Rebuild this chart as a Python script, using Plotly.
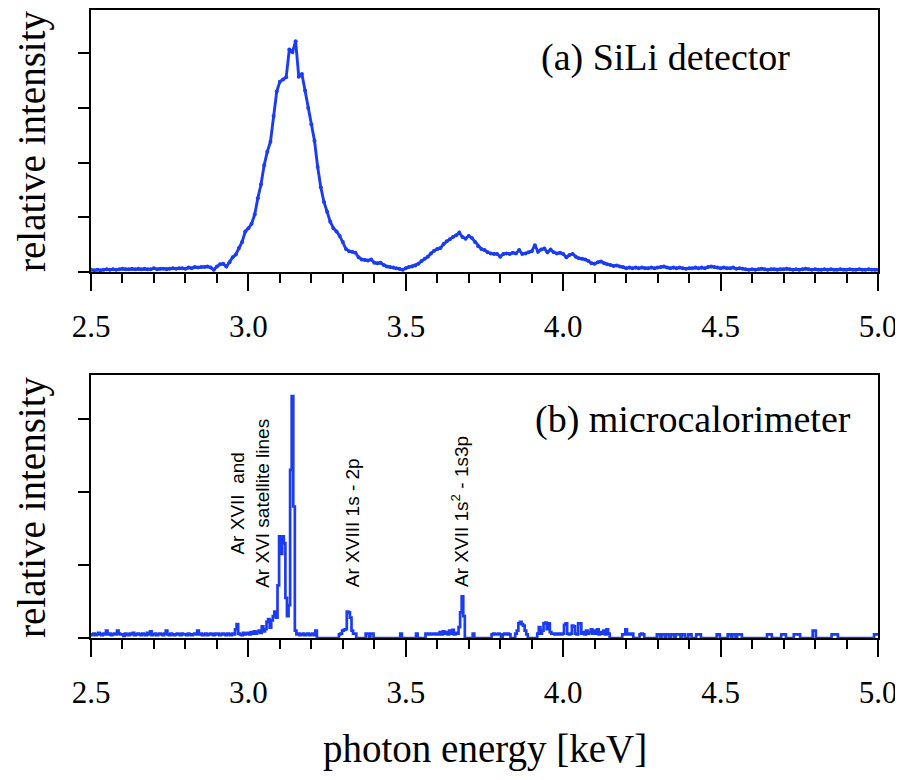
import plotly.graph_objects as go

# ---------------- data ----------------
# (a) SiLi detector: channel step 0.01 keV starting at 2.50 keV
sili_start = 2.50
sili_step = 0.01
sili_intensity = [
    0.04, 0.03, 0.04, 0.03, 0.04, 0.05, 0.04, 0.05, 0.04, 0.05,   # 2.50
    0.06, 0.05, 0.05, 0.06, 0.05, 0.06, 0.05, 0.06, 0.05, 0.05,   # 2.60
    0.07, 0.05, 0.06, 0.06, 0.05, 0.06, 0.07, 0.06, 0.07, 0.07,   # 2.70
    0.06, 0.08, 0.07, 0.09, 0.08, 0.09, 0.09, 0.10, 0.08, 0.04,   # 2.80
    0.10, 0.14, 0.15, 0.10, 0.18, 0.27, 0.32, 0.44, 0.55, 0.74,   # 2.90
    0.80, 0.88, 1.05, 1.35, 1.60, 1.95, 2.20, 2.38, 2.85, 3.30,   # 3.00
    3.48, 3.52, 3.56, 4.07, 4.02, 4.22, 3.57, 3.62, 3.32, 3.00,   # 3.10
    2.70, 2.40, 1.92, 1.55, 1.28, 1.10, 0.92, 0.80, 0.74, 0.66,   # 3.20
    0.55, 0.42, 0.38, 0.37, 0.35, 0.27, 0.23, 0.22, 0.21, 0.23,   # 3.30
    0.17, 0.16, 0.17, 0.13, 0.10, 0.09, 0.08, 0.07, 0.06, 0.04,   # 3.40
    0.07, 0.09, 0.10, 0.12, 0.15, 0.20, 0.24, 0.28, 0.34, 0.39,   # 3.50
    0.42, 0.44, 0.51, 0.56, 0.60, 0.64, 0.67, 0.72, 0.64, 0.61,   # 3.60
    0.66, 0.62, 0.55, 0.47, 0.42, 0.40, 0.36, 0.34, 0.33, 0.33,   # 3.70
    0.28, 0.33, 0.34, 0.33, 0.35, 0.34, 0.40, 0.33, 0.34, 0.36,   # 3.80
    0.38, 0.49, 0.37, 0.41, 0.43, 0.36, 0.41, 0.36, 0.34, 0.35,   # 3.90
    0.33, 0.27, 0.31, 0.33, 0.28, 0.25, 0.24, 0.23, 0.20, 0.16,   # 4.00
    0.15, 0.18, 0.19, 0.16, 0.14, 0.13, 0.11, 0.12, 0.10, 0.09,   # 4.10
    0.07, 0.08, 0.07, 0.08, 0.07, 0.08, 0.07, 0.07, 0.08, 0.07,   # 4.20
    0.08, 0.09, 0.10, 0.08, 0.07, 0.08, 0.07, 0.08, 0.07, 0.06,   # 4.30
    0.07, 0.07, 0.08, 0.07, 0.08, 0.07, 0.09, 0.10, 0.09, 0.08,   # 4.40
    0.07, 0.08, 0.07, 0.07, 0.08, 0.06, 0.07, 0.06, 0.05, 0.04,   # 4.50
    0.05, 0.04, 0.05, 0.06, 0.05, 0.04, 0.05, 0.05, 0.04, 0.05,   # 4.60
    0.05, 0.06, 0.05, 0.04, 0.05, 0.04, 0.05, 0.06, 0.05, 0.04,   # 4.70
    0.05, 0.04, 0.04, 0.05, 0.04, 0.05, 0.04, 0.04, 0.05, 0.04,   # 4.80
    0.04, 0.05, 0.04, 0.04, 0.05, 0.04, 0.04, 0.05, 0.04, 0.04,   # 4.90
    0.04,                                                         # 5.00
]

# (b) microcalorimeter: channel step 0.005 keV starting at 2.500 keV
calo_start = 2.500
calo_step = 0.005
calo_intensity = [
    0.04, 0.05, 0.06, 0.04, 0.05, 0.07, 0.05, 0.04, 0.06, 0.05, 0.10, 0.05, 0.06, 0.04, 0.05, 0.06, 0.05, 0.10, 0.06, 0.05,  # 2.50
    0.05, 0.03, 0.06, 0.05, 0.04, 0.06, 0.05, 0.07, 0.04, 0.05, 0.06, 0.05, 0.04, 0.06, 0.05, 0.04, 0.07, 0.05, 0.09, 0.04,  # 2.60
    0.05, 0.06, 0.04, 0.05, 0.06, 0.05, 0.04, 0.06, 0.10, 0.05, 0.04, 0.06, 0.05, 0.04, 0.05, 0.06, 0.05, 0.04, 0.06, 0.05,  # 2.70
    0.05, 0.04, 0.06, 0.05, 0.04, 0.05, 0.06, 0.05, 0.10, 0.05, 0.06, 0.04, 0.05, 0.06, 0.04, 0.05, 0.06, 0.05, 0.04, 0.06,  # 2.80
    0.05, 0.06, 0.04, 0.05, 0.06, 0.05, 0.04, 0.06, 0.05, 0.04, 0.06, 0.05, 0.12, 0.19, 0.06, 0.05, 0.04, 0.07, 0.05, 0.06,  # 2.90
    0.07, 0.05, 0.08, 0.06, 0.09, 0.06, 0.08, 0.10, 0.07, 0.16, 0.09, 0.12, 0.22, 0.26, 0.14, 0.24, 0.30, 0.36, 0.28, 0.72,  # 3.00
    1.39, 1.15, 1.39, 1.30, 0.55, 0.30, 0.45, 2.30, 3.31, 1.80, 0.10, 0.05, 0.06, 0.04, 0.05, 0.06, 0.04, 0.05, 0.06, 0.04,  # 3.10
    0.05, 0.06, 0.04, 0.10, 0.00, 0.00, 0.00, 0.00, 0.00, 0.00, 0.00, 0.00, 0.00, 0.00, 0.00, 0.00, 0.00, 0.00, 0.05, 0.06,  # 3.20
    0.10, 0.11, 0.12, 0.36, 0.35, 0.28, 0.10, 0.06, 0.06, 0.00, 0.00, 0.00, 0.00, 0.00, 0.00, 0.06, 0.06, 0.00, 0.06, 0.06,  # 3.30
    0.00, 0.00, 0.00, 0.00, 0.00, 0.00, 0.00, 0.00, 0.00, 0.00, 0.00, 0.00, 0.00, 0.00, 0.00, 0.00, 0.00, 0.06, 0.00, 0.00,  # 3.40
    0.00, 0.00, 0.00, 0.00, 0.00, 0.00, 0.00, 0.06, 0.00, 0.00, 0.00, 0.00, 0.00, 0.06, 0.05, 0.06, 0.05, 0.06, 0.06, 0.05,  # 3.50
    0.06, 0.05, 0.08, 0.05, 0.09, 0.06, 0.08, 0.05, 0.10, 0.06, 0.11, 0.05, 0.07, 0.06, 0.15, 0.35, 0.57, 0.30, 0.00, 0.00,  # 3.60
    0.00, 0.00, 0.00, 0.06, 0.00, 0.00, 0.00, 0.00, 0.00, 0.00, 0.00, 0.00, 0.00, 0.00, 0.00, 0.05, 0.06, 0.05, 0.05, 0.06,  # 3.70
    0.05, 0.00, 0.05, 0.06, 0.05, 0.06, 0.05, 0.00, 0.00, 0.00, 0.06, 0.10, 0.20, 0.22, 0.19, 0.17, 0.10, 0.05, 0.00, 0.00,  # 3.80
    0.00, 0.00, 0.00, 0.00, 0.06, 0.15, 0.06, 0.10, 0.20, 0.21, 0.12, 0.20, 0.08, 0.06, 0.06, 0.05, 0.06, 0.05, 0.06, 0.05,  # 3.90
    0.06, 0.18, 0.20, 0.06, 0.05, 0.06, 0.17, 0.16, 0.06, 0.05, 0.20, 0.20, 0.06, 0.08, 0.05, 0.10, 0.06, 0.08, 0.12, 0.06,  # 4.00
    0.10, 0.06, 0.12, 0.05, 0.08, 0.06, 0.10, 0.05, 0.12, 0.06, 0.00, 0.00, 0.00, 0.00, 0.00, 0.00, 0.00, 0.00, 0.05, 0.05,  # 4.10
    0.12, 0.05, 0.06, 0.05, 0.06, 0.00, 0.00, 0.00, 0.00, 0.05, 0.06, 0.05, 0.00, 0.00, 0.00, 0.00, 0.00, 0.00, 0.00, 0.00,  # 4.20
    0.05, 0.05, 0.00, 0.05, 0.05, 0.00, 0.05, 0.05, 0.00, 0.05, 0.05, 0.00, 0.05, 0.05, 0.05, 0.00, 0.05, 0.05, 0.00, 0.00,  # 4.30
    0.05, 0.05, 0.00, 0.00, 0.00, 0.05, 0.05, 0.05, 0.00, 0.00, 0.00, 0.00, 0.00, 0.00, 0.00, 0.00, 0.00, 0.00, 0.05, 0.05,  # 4.40
    0.00, 0.00, 0.00, 0.00, 0.00, 0.05, 0.05, 0.00, 0.05, 0.05, 0.00, 0.05, 0.05, 0.05, 0.00, 0.00, 0.00, 0.00, 0.00, 0.00,  # 4.50
    0.00, 0.00, 0.00, 0.00, 0.00, 0.00, 0.00, 0.00, 0.00, 0.00, 0.05, 0.05, 0.05, 0.00, 0.00, 0.00, 0.00, 0.00, 0.00, 0.05,  # 4.60
    0.05, 0.05, 0.00, 0.00, 0.00, 0.00, 0.00, 0.05, 0.05, 0.05, 0.05, 0.00, 0.00, 0.00, 0.00, 0.00, 0.00, 0.00, 0.00, 0.10,  # 4.70
    0.10, 0.00, 0.00, 0.00, 0.00, 0.00, 0.00, 0.00, 0.00, 0.00, 0.00, 0.05, 0.05, 0.05, 0.05, 0.00, 0.00, 0.00, 0.00, 0.00,  # 4.80
    0.00, 0.00, 0.00, 0.00, 0.00, 0.00, 0.00, 0.00, 0.00, 0.00, 0.00, 0.00, 0.00, 0.00, 0.00, 0.00, 0.00, 0.00, 0.05, 0.05,  # 4.90
    0.05,                                                                                                                    # 5.00
]

x_tick_values = [2.5, 3.0, 3.5, 4.0, 4.5, 5.0]
x_tick_labels = ["2.5", "3.0", "3.5", "4.0", "4.5", "5.0"]
top_y_ticks = [0, 1, 2, 3, 4]
bottom_y_ticks = [0, 1, 2, 3]

line_labels = [
    ("Ar XVII\u00a0 and<br>Ar XVI satellite lines", 3.005, 1.85),
    ("Ar XVIII 1s - 2p", 3.331, 1.58),
    ("Ar XVII 1s<sup>2</sup> - 1s3p", 3.670, 1.73),
]

# ---------------- figure ----------------
sili_energy = [round(sili_start + i * sili_step, 4) for i in range(len(sili_intensity))]
calo_energy = [round(calo_start + i * calo_step, 4) for i in range(len(calo_intensity))]

BLUE = "#1b3cf5"
SERIF = "Liberation Serif"
SANS = "Liberation Sans"

# The page body has an 8 px margin; the figure is sized so that it fits the
# 903x780 window without scrollbars, and window pixels are mapped into it.
OFF = 8
FW, FH = 895, 764


def px(X):
    return (X - OFF) / FW


def py(Y):
    return 1 - (Y - OFF) / FH


fig = go.Figure()
fig.add_trace(go.Scatter(
    x=sili_energy, y=sili_intensity, mode="lines+markers",
    line=dict(color=BLUE, width=2.9), marker=dict(color=BLUE, size=4),
    xaxis="x", yaxis="y", showlegend=False, hoverinfo="skip"))
fig.add_trace(go.Scatter(
    x=calo_energy, y=calo_intensity, mode="lines",
    line=dict(color=BLUE, width=2.7, shape="hvh"),
    xaxis="x2", yaxis="y2", showlegend=False, hoverinfo="skip"))

xaxis_common = dict(
    range=[2.5, 5.0], domain=[px(91), px(878)], automargin=False,
    showline=True, linecolor="black", linewidth=2, mirror=True,
    ticks="outside", ticklen=17, tickwidth=2, tickcolor="black",
    tickvals=x_tick_values, ticktext=x_tick_labels,
    tickfont=dict(family=SERIF, size=31, color="black"),
    ticklabelstandoff=9,
    minor=dict(ticks="outside", ticklen=9, tickwidth=1.5, tickcolor="black",
               dtick=0.1, tick0=2.5, showgrid=False),
    showgrid=False, zeroline=False,
)
yaxis_common = dict(
    automargin=False,
    showline=True, linecolor="black", linewidth=2, mirror=True,
    ticks="outside", ticklen=11, tickwidth=1.5, tickcolor="black",
    showticklabels=False, showgrid=False, zeroline=False,
)

fig.update_layout(
    width=FW, height=FH,
    font=dict(family=SERIF, color="black"),
    margin=dict(l=0, r=0, t=0, b=0, pad=0, autoexpand=False),
    paper_bgcolor="white", plot_bgcolor="white",
    xaxis=dict(**xaxis_common, anchor="y"),
    yaxis=dict(**yaxis_common, range=[0, 4.79], tickvals=top_y_ticks,
               domain=[py(272), py(10)], anchor="x"),
    xaxis2=dict(**xaxis_common, anchor="y2"),
    yaxis2=dict(**yaxis_common, range=[0, 3.6], tickvals=bottom_y_ticks,
                domain=[py(638), py(375)], anchor="x2"),
)

annotations = [
    dict(text="(a) SiLi detector", x=px(665), y=py(57), xref="paper", yref="paper",
         showarrow=False, xanchor="center", yanchor="middle",
         font=dict(family=SERIF, size=38, color="black")),
    dict(text="(b) microcalorimeter", x=px(693), y=py(420), xref="paper", yref="paper",
         showarrow=False, xanchor="center", yanchor="middle",
         font=dict(family=SERIF, size=38, color="black")),
    dict(text="relative intensity", x=px(32), y=py(141), xref="paper", yref="paper",
         textangle=-90, showarrow=False, xanchor="center", yanchor="middle",
         font=dict(family=SERIF, size=39, color="black")),
    dict(text="relative intensity", x=px(32), y=py(507), xref="paper", yref="paper",
         textangle=-90, showarrow=False, xanchor="center", yanchor="middle",
         font=dict(family=SERIF, size=39, color="black")),
    dict(text="photon energy [keV]", x=px(485), y=py(749), xref="paper", yref="paper",
         showarrow=False, xanchor="center", yanchor="middle",
         font=dict(family=SERIF, size=39, color="black")),
]
for txt, ex, ey in line_labels:
    annotations.append(dict(text=txt, x=ex, y=ey, xref="x2", yref="y2",
                            textangle=-90, showarrow=False,
                            xanchor="center", yanchor="middle",
                            font=dict(family=SANS, size=19, color="black")))
fig.update_layout(annotations=annotations)

fig.write_html("out.html")
